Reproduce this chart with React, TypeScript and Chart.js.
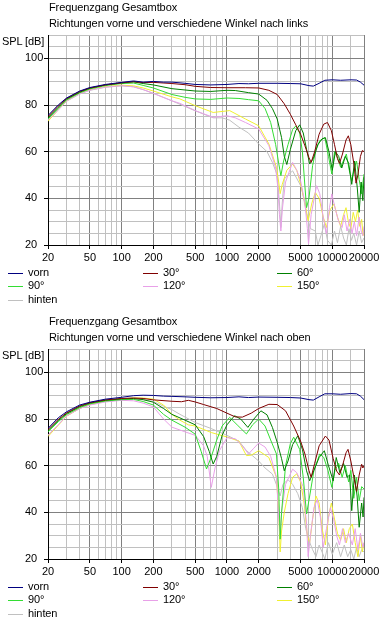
import React, { useEffect, useRef } from 'react';
import { Chart, registerables } from 'chart.js';

Chart.register(...registerables);

type P = [number, number];

// ---------- axis values ----------
const xLabelTicks = [20, 50, 100, 200, 500, 1000, 2000, 5000, 10000, 20000];
const xGridTicks = [20, 30, 40, 50, 60, 70, 80, 90, 100, 200, 300, 400, 500, 600, 700, 800, 900,
  1000, 2000, 3000, 4000, 5000, 6000, 7000, 8000, 9000, 10000, 15000, 20000];
const yLabelTicks = [20, 40, 60, 80, 100];
const yGridTicks = [20, 25, 30, 35, 40, 45, 50, 55, 60, 65, 70, 75, 80, 85, 90, 95, 100, 105, 110];

const seriesLabels = ['vorn', '30°', '60°', '90°', '120°', '150°', 'hinten'];
const title1 = 'Frequenzgang Gesamtbox';
const subtitleLinks = 'Richtungen vorne und verschiedene Winkel nach links';
const subtitleOben = 'Richtungen vorne und verschiedene Winkel nach oben';

// ---------- chart 1: nach links ----------
const linksVorn: P[] = [[20,75.5],[25,80],[30,83],[40,86],[50,87.5],[70,88.8],[100,89.7],[130,90.3],[160,89.8],[200,90.1],[250,89.8],[300,89.8],[400,89.3],[500,88.8],[700,88.6],[1000,88.8],[1300,89.2],[1600,89.1],[2000,89.3],[3000,89.3],[4000,89.2],[5000,89.1],[6000,88.3],[6600,88.1],[7500,89.3],[8500,90.6],[10000,90.8],[12000,90.6],[15000,90.8],[17000,90.7],[18500,89.8],[20000,88.5]];
const links30: P[] = [[20,75],[25,79.5],[30,82.8],[40,85.8],[50,87.3],[70,88.6],[100,89.5],[130,90],[160,89.6],[200,89.7],[300,89.2],[400,88.7],[500,88],[700,87.5],[1000,87.4],[1500,87.4],[2000,87.3],[2500,86.3],[3000,84.5],[3500,80.5],[4000,76],[4500,71.5],[5000,67.5],[5500,62.5],[6000,57.5],[6300,55.4],[6800,60],[7500,67.5],[8300,71.8],[9000,72.5],[9800,69],[10500,63],[11200,57],[11700,55],[12500,59],[13500,65],[14200,66.8],[15000,63],[16000,55],[16800,46.5],[17500,50],[18500,58],[19300,60.5],[20000,60]];
const links60: P[] = [[20,74.5],[25,79],[30,82.5],[40,85.5],[50,87.2],[70,88.6],[100,89.5],[130,89.9],[160,89.2],[200,88.6],[300,87],[500,86],[700,85.8],[1000,86.3],[1200,86.2],[1600,85.3],[2000,84.7],[2400,82],[2700,78.5],[3000,74],[3300,66],[3500,58],[3700,54.5],[4000,61],[4500,69],[4900,71.5],[5300,68],[5700,61],[6100,54.7],[6600,57],[7300,63],[8000,65.5],[8600,66],[9300,60],[10000,52],[10700,60],[11500,58],[12300,53],[13300,58],[14300,55],[15300,46],[16300,56],[17300,44],[18000,34],[18800,47],[19500,39],[20000,49]];
const links90: P[] = [[20,74],[25,78.5],[30,82.2],[40,85.2],[50,86.9],[70,88.3],[100,89.2],[130,89.4],[160,88.4],[200,87.3],[300,84.5],[400,83.3],[500,82.6],[700,82.4],[1000,83],[1300,82.8],[1600,82.3],[2000,81.8],[2300,78.5],[2600,72.5],[2900,63],[3100,55],[3250,49.7],[3450,56],[3800,63],[4200,69.5],[4500,71],[4900,68],[5200,60],[5500,45],[5700,36],[6000,40],[6500,54],[7000,61],[7600,64.7],[8500,66],[9200,58],[9900,50.4],[10500,60],[11300,57],[12000,53.3],[13000,57],[13600,59],[14500,52],[15300,47.6],[16200,53],[17000,56],[18000,48],[19000,41.9],[20000,50.4]];
const links120: P[] = [[20,73.5],[25,78],[30,81.8],[40,84.8],[50,86.4],[70,87.7],[100,88.3],[130,87.8],[160,86.6],[200,85],[300,81.8],[358,80.7],[500,77.6],[740,74.7],[1000,75.4],[1200,74.5],[1500,72.5],[2000,69.7],[2500,62.6],[2900,53],[3050,44],[3150,33],[3250,26],[3350,35],[3600,47],[4200,55.4],[4600,52],[5000,47.6],[5500,38],[5800,27],[5950,20.4],[6300,33],[7100,45.4],[7600,42],[8200,32],[8800,24.8],[9400,36],[9900,41.9],[10600,36],[11500,30],[12400,27.5],[13000,33],[13800,26],[14600,31],[15400,25],[16200,30],[17000,24],[18000,32],[18800,26],[19500,24],[20000,28]];
const links150: P[] = [[20,73],[25,78],[30,81.8],[40,85],[50,86.6],[70,87.9],[100,88.5],[130,88.2],[160,87.3],[200,86],[300,83.5],[358,82.6],[500,79.7],[740,76.8],[1060,77.6],[1500,74],[2000,71.1],[2500,63.3],[2950,53.3],[3100,47],[3200,42],[3350,46],[3700,52],[4200,54.7],[4600,52],[5000,46.1],[5500,38],[5900,30.4],[6400,38],[6900,42.5],[7500,40],[8200,32],[8800,27.5],[9500,35],[10400,37.6],[11200,32],[12000,28],[12800,33],[13500,36],[14200,30],[15000,27],[15800,34],[16600,30],[17400,35],[18200,28],[19000,31],[19600,24],[20000,26]];
const linksHinten: P[] = [[20,73.3],[25,77.8],[30,81.6],[40,84.7],[50,86.3],[70,87.6],[100,88.2],[130,87.8],[160,86.6],[200,85],[300,81.8],[500,77.5],[740,74.5],[900,74.5],[1060,73.5],[1300,70.5],[1600,68],[2000,63.3],[2400,60],[2700,55.4],[3000,50],[3150,38],[3250,27.5],[3350,38],[3500,48.3],[4200,51.8],[4800,47],[5100,44.7],[5700,33.4],[6200,27],[6900,26],[7300,20],[7800,24],[8400,29],[9000,22],[9800,20],[10500,26],[11200,21],[12000,28],[12800,23],[13600,20],[14400,27],[15200,22],[16000,25],[17000,20],[18000,26],[19000,21],[20000,23]];

// ---------- chart 2: nach oben ----------
const obenVorn: P[] = [[20,76],[25,80.5],[30,83.1],[40,86],[50,87.2],[70,88.5],[100,89.3],[130,90],[160,90.2],[200,90.1],[250,89.8],[300,89.7],[400,89.5],[500,89.3],[700,89.1],[1000,89.2],[1300,89.5],[1600,89.2],[2000,89.4],[3000,89.3],[4000,89.2],[5000,89],[6000,88.3],[6600,88.1],[7500,89.5],[8500,90.8],[10000,90.8],[12000,90.6],[15000,90.9],[17000,90.8],[18500,89.8],[20000,88.3]];
const oben30: P[] = [[20,75.5],[25,79.8],[30,82.6],[40,85.6],[50,87],[70,88.2],[100,88.8],[130,89],[160,88.8],[200,88.2],[300,87.6],[370,87.4],[430,88],[500,87.3],[600,86.2],[800,84.5],[1000,82.5],[1200,80.9],[1400,80.8],[1700,82.5],[2000,84.5],[2500,86.3],[3000,86.2],[3600,83.5],[4300,77],[5000,70.5],[5500,65],[6000,58],[6300,55],[6800,61],[7500,68.5],[8600,72.7],[9300,71],[10200,63],[11000,57.7],[11700,56],[12500,60],[13500,65.5],[14100,67],[15000,62],[16200,54],[17000,49],[18000,56],[19000,60.6],[19500,59],[20000,60]];
const oben60: P[] = [[20,75],[25,79.3],[30,82.3],[40,85.3],[50,86.8],[70,88],[100,88.6],[130,88.8],[160,88.3],[200,87.2],[250,84.5],[300,82],[400,79.5],[500,77.5],[600,72.5],[680,66],[740,60.7],[800,64],[900,73],[1000,77.5],[1180,81.4],[1350,80],[1580,76.4],[1800,80],[2100,83.5],[2400,81.8],[2700,76.4],[3000,70],[3300,63],[3500,57.8],[3800,62],[4200,69],[4700,72.8],[5200,67],[5700,57.8],[6100,53.5],[6700,58],[7500,63.5],[8400,66.4],[9200,60],[10200,53.5],[10900,63.5],[11800,57],[12800,61],[13800,55],[14600,56],[15300,40.7],[16200,56],[17200,47],[18000,33.6],[19000,44],[19600,38],[20000,46.4]];
const oben90: P[] = [[20,74.5],[25,78.8],[30,81.9],[40,84.9],[50,86.5],[70,87.7],[100,88.3],[130,88.4],[160,87.5],[200,86],[250,82],[300,79.5],[400,76.5],[500,73.5],[570,66],[640,58.6],[700,63],[800,71],[900,77],[1060,80.7],[1250,77.5],[1530,73.6],[1750,77.5],[2000,80],[2300,77],[2600,71],[2950,65],[3100,50],[3200,28.5],[3300,40],[3600,60],[4000,69.5],[4300,72.2],[4900,67],[5300,55],[5700,39.3],[6100,47],[6700,58],[7600,65],[8300,63.5],[9100,58],[9900,50.7],[10600,58],[11500,61],[12400,55],[13300,60],[14300,53],[15000,58],[16000,46],[17000,55],[18000,45],[19000,51],[20000,50]];
const oben120: P[] = [[20,73],[25,77.5],[30,81.3],[40,84.5],[50,86],[70,87.3],[100,88],[130,87.8],[160,86.8],[200,85.2],[250,80],[300,76.5],[400,74.5],[500,73],[600,68.5],[650,64],[710,50.7],[770,59],[850,66.5],[1000,72],[1200,71.5],[1400,68.5],[1600,65],[1800,67.5],[2000,69.7],[2300,68],[2600,64],[2950,55],[3100,38],[3200,30.7],[3300,40],[3600,52],[4200,58.5],[4600,57],[5300,51],[5700,35],[5900,21],[6200,30],[6700,42],[7200,45.5],[7700,38],[8200,25],[8800,33],[9600,42],[10300,37],[11000,30],[11700,26],[12500,33],[13300,27],[14300,31],[15500,26],[16500,33],[17500,24],[18500,31],[19500,25],[20000,27]];
const oben150: P[] = [[20,72.5],[25,77.3],[30,81.2],[40,84.6],[50,86.3],[70,87.8],[100,88.6],[130,89],[160,89],[200,88.5],[250,86],[300,82],[358,79.5],[430,77.5],[500,77],[710,74.2],[1000,72.3],[1300,70.5],[1530,64.3],[1700,64.5],[2000,66.4],[2500,63.5],[2950,55],[3100,40],[3200,23],[3300,32],[3500,40],[3800,48],[4200,55],[4600,56.5],[5000,53],[5400,44],[5800,30],[6100,27],[6500,37],[7000,47],[7500,44],[8000,33],[8600,26],[9200,38],[9800,44],[10400,38],[11200,31],[12000,28],[12800,33],[13600,27],[14500,33],[15500,35],[16500,27],[17500,21],[18500,30],[19300,23],[20000,27]];
const obenHinten: P[] = [[20,73],[25,77.5],[30,81.3],[40,84.5],[50,86.1],[70,87.5],[100,88.2],[130,88.5],[160,88.3],[200,87.5],[250,85.5],[300,84],[358,82],[500,78.5],[700,76],[1000,73],[1300,70.5],[1530,66.5],[2000,62],[2300,59],[2700,56.4],[3000,51],[3200,47],[3400,52],[3800,54],[4200,52],[4700,48],[5200,42],[5600,33],[6000,28],[6500,24],[7000,21],[7500,26],[8000,23],[8500,20],[9200,27],[10000,22],[11000,27],[12000,21],[13000,26],[14000,21],[15000,24],[16000,20],[17000,25],[18000,21],[19000,24],[20000,23]];

// ---------- styles ----------
const seriesColors = ['#000080', '#800000', '#008000', '#33dd33', '#e8a0e8', '#f0f030', '#c0c0c0'];
const FONT = "'Liberation Sans', Arial, sans-serif";
const MAJOR = '#808080';
const MINOR = '#c0c0c0';

const textStyle: React.CSSProperties = {
  position: 'absolute', fontFamily: FONT, fontSize: 11, lineHeight: '13px',
  letterSpacing: '-0.1px', whiteSpace: 'nowrap', color: '#000',
};

const legendCols = [{ line: 8, text: 28 }, { line: 143, text: 163 }, { line: 277, text: 297 }];

function FreqChart({ top, subtitle, series }: { top: number; subtitle: string; series: P[][] }) {
  const ref = useRef<HTMLCanvasElement>(null);
  useEffect(() => {
    const chart = new Chart(ref.current as HTMLCanvasElement, {
      type: 'line',
      data: {
        datasets: series.map((s, i) => ({
          label: seriesLabels[i],
          data: s.map(([x, y]) => ({ x, y })),
          borderColor: seriesColors[i],
          backgroundColor: seriesColors[i],
          borderWidth: 1,
          pointRadius: 0,
          fill: false,
          tension: 0,
        })),
      },
      options: {
        responsive: false,
        animation: false,
        devicePixelRatio: 1,
        layout: { padding: { left: 25, top: 35, right: 22, bottom: 0 } },
        plugins: { legend: { display: false }, tooltip: { enabled: false }, title: { display: false } },
        scales: {
          x: {
            type: 'logarithmic',
            min: 20,
            max: 20000,
            afterBuildTicks: (s: any) => { s.ticks = xGridTicks.map((v) => ({ value: v })); },
            afterFit: (s: any) => { s.height = 25; },
            ticks: {
              autoSkip: false, maxRotation: 0, minRotation: 0, padding: 2, color: '#000',
              font: { family: FONT, size: 11 },
              callback: (v: any) => (xLabelTicks.includes(Number(v)) ? String(v) : ''),
            },
            grid: {
              color: (c: any) => (xLabelTicks.includes(c.tick?.value) ? MAJOR : MINOR),
              tickColor: (c: any) => (xLabelTicks.includes(c.tick?.value) ? '#000' : 'rgba(0,0,0,0)'),
              tickLength: 4,
              lineWidth: 1,
            },
            border: { color: '#000', width: 1 },
          },
          y: {
            type: 'linear',
            min: 20,
            max: 110,
            afterBuildTicks: (s: any) => { s.ticks = yGridTicks.map((v) => ({ value: v })); },
            afterFit: (s: any) => { s.width = 23; },
            ticks: {
              autoSkip: false, crossAlign: 'far', padding: 0, color: '#000',
              font: { family: FONT, size: 11 },
              callback: (v: any) => (yLabelTicks.includes(Number(v)) ? String(v) : ''),
            },
            grid: {
              color: (c: any) => (yLabelTicks.includes(c.tick?.value) ? MAJOR : MINOR),
              tickColor: (c: any) => (yLabelTicks.includes(c.tick?.value) ? '#000' : 'rgba(0,0,0,0)'),
              tickLength: 4,
              lineWidth: 1,
            },
            border: { color: '#000', width: 1 },
          },
        },
      } as any,
    });
    return () => chart.destroy();
  }, []);

  return (
    <div style={{ position: 'absolute', left: 0, top, width: 386, height: 305 }}>
      <canvas ref={ref} width={386} height={270} style={{ position: 'absolute', left: 0, top: 0, width: 386, height: 270 }} />
      <div style={{ ...textStyle, left: 49, top: 1 }}>{title1}</div>
      <div style={{ ...textStyle, left: 49, top: 17 }}>{subtitle}</div>
      <div style={{ ...textStyle, left: 2, top: 35 }}>SPL [dB]</div>
      {seriesLabels.map((lab, i) => {
        const row = Math.floor(i / 3);
        const col = legendCols[i % 3];
        const rowTop = 266 + row * 13.3;
        return (
          <React.Fragment key={lab}>
            <div style={{ position: 'absolute', left: col.line, top: Math.round(rowTop + 7), width: 15, height: 1, background: seriesColors[i] }} />
            <div style={{ ...textStyle, left: col.text, top: rowTop }}>{lab}</div>
          </React.Fragment>
        );
      })}
    </div>
  );
}

export default function App() {
  return (
    <div style={{ position: 'absolute', left: 0, top: 0, width: 386, height: 619, background: '#fff', overflow: 'hidden' }}>
      <FreqChart top={0} subtitle={subtitleLinks}
        series={[linksVorn, links30, links60, links90, links120, links150, linksHinten]} />
      <FreqChart top={314} subtitle={subtitleOben}
        series={[obenVorn, oben30, oben60, oben90, oben120, oben150, obenHinten]} />
    </div>
  );
}
